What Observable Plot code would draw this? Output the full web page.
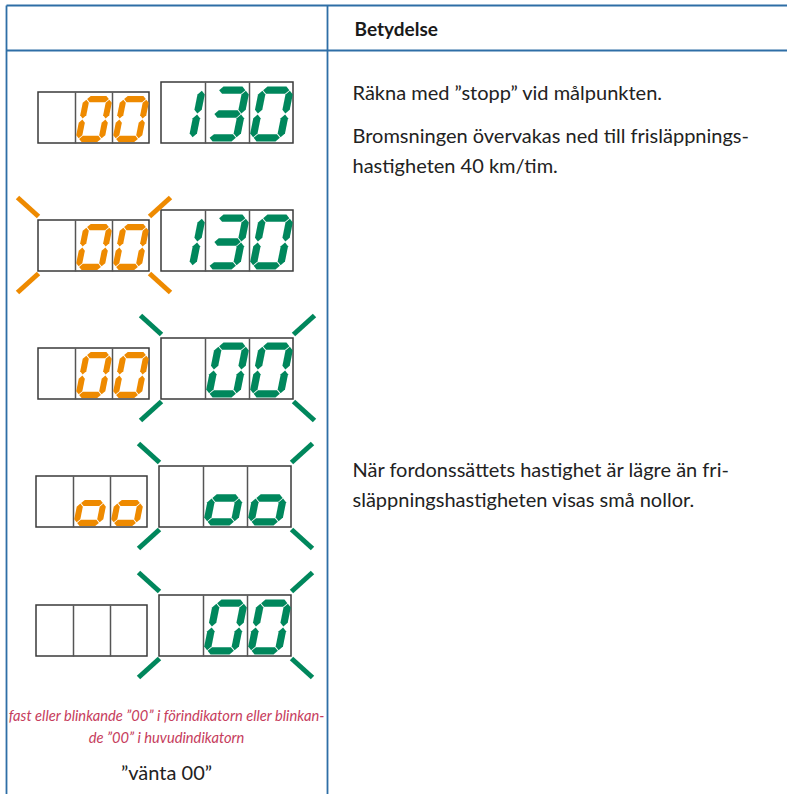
<!DOCTYPE html>
<html>
<head>
<meta charset="utf-8">
<script src="https://cdn.jsdelivr.net/npm/d3@7"></script>
<script src="https://cdn.jsdelivr.net/npm/@observablehq/plot@0.6"></script>
<style>
  html, body { margin: 0; padding: 0; background: #fff; }
  svg { display: block; }
</style>
</head>
<body>
<div id="chart"></div>
<script>
// ---- data ----
const headerLabels = ["", "Betydelse"];
const preDisplays  = [" 00", " 00", " 00", " oo", "   "];
const mainDisplays = ["130", "130", " 00", " oo", " 00"];
const preBlinking  = [false, true, false, false, false];
const mainBlinking = [false, false, true, true, true];
const meaningLines = [
  "Räkna med ”stopp” vid målpunkten.",
  "Bromsningen övervakas ned till frisläppnings-",
  "hastigheten 40 km/tim.",
  "När fordonssättets hastighet är lägre än fri-",
  "släppningshastigheten visas små nollor."
];
const captionLines = [
  "fast eller blinkande ”00” i förindikatorn eller blinkan-",
  "de ”00” i huvudindikatorn"
];
const signalNames = ["”vänta 00”"];
const digitSegments = {"0": "abcdef", "1": "bc", "3": "abcdg", "o": "cdeg", " ": ""};

// ---- layout ----
const W = 787, H = 794;
const ORANGE = "#ee8a00", GREEN = "#00875c", RULE = "#2e6ea6", BOX = "#3a3a3a";
const colX = 6, colDiv = 327, topY = 5, headY = 50;
const rowBottoms = [143, 271, 399, 527, 656];
const rowShift = [0, 0, 0, -2, -2];
const pre = {x: 38, cw: 37, h: 51, color: ORANGE};
const main = {x: 161, cw: 44, h: 61, color: GREEN};
const skew = 0.2;

const tableLines = [
  {x1: colX, y1: topY, x2: W, y2: topY},
  {x1: colX, y1: headY, x2: W, y2: headY},
  {x1: colX, y1: topY, x2: colX, y2: H},
  {x1: colDiv, y1: topY, x2: colDiv, y2: H}
];

const boxes = [], dividers = [], polys = [], rays = [];
function segEnds(s, w, h) {
  const L = -w / 2, R = w / 2, T = -h / 2, B = h / 2;
  return {
    a: [[L, T], [R, T]], b: [[R, T], [R, 0]], c: [[R, 0], [R, B]],
    d: [[L, B], [R, B]], e: [[L, 0], [L, B]], f: [[L, T], [L, 0]], g: [[L, 0], [R, 0]]
  }[s];
}
let pid = 0;
function addDigit(ch, cx, cy, bh, color) {
  const w = 0.45 * bh, h = 0.78 * bh, t = 0.12 * bh, gp = 0.6;
  for (const s of digitSegments[ch] || "") {
    const [[px, py], [qx, qy]] = segEnds(s, w, h);
    const len = Math.hypot(qx - px, qy - py);
    const ux = (qx - px) / len, uy = (qy - py) / len, nx = -uy, ny = ux;
    const P = [px + ux * gp, py + uy * gp], Q = [qx - ux * gp, qy - uy * gp];
    const k = t / 2;
    const pts = [
      P,
      [P[0] + ux * k + nx * k, P[1] + uy * k + ny * k],
      [Q[0] - ux * k + nx * k, Q[1] - uy * k + ny * k],
      Q,
      [Q[0] - ux * k - nx * k, Q[1] - uy * k - ny * k],
      [P[0] + ux * k - nx * k, P[1] + uy * k - ny * k]
    ];
    const id = pid++;
    for (const [x, y] of pts) polys.push({id, color, x: cx + x - skew * y, y: cy + y});
  }
}
function addDisplay(spec, text, blinking, bottom, shift) {
  const x1 = spec.x + shift, x2 = x1 + 3 * spec.cw, y2 = bottom, y1 = bottom - spec.h;
  boxes.push({x1, x2, y1, y2});
  for (let i = 1; i < 3; i++) dividers.push({x: x1 + i * spec.cw, y1, y2});
  [...text].forEach((ch, i) => addDigit(ch, x1 + (i + 0.5) * spec.cw, (y1 + y2) / 2 + 1, spec.h, spec.color));
  if (blinking) {
    const dx = 21, dy = 19;
    rays.push({x1: x1, y1: y1 - 4, x2: x1 - dx, y2: y1 - 4 - dy, color: spec.color});
    rays.push({x1: x2, y1: y1 - 4, x2: x2 + dx, y2: y1 - 4 - dy, color: spec.color});
    rays.push({x1: x1, y1: y2 + 2, x2: x1 - dx, y2: y2 + 2 + dy, color: spec.color});
    rays.push({x1: x2, y1: y2 + 2, x2: x2 + dx, y2: y2 + 2 + dy, color: spec.color});
  }
}
rowBottoms.forEach((b, r) => {
  addDisplay(pre, preDisplays[r], preBlinking[r], b, rowShift[r]);
  addDisplay(main, mainDisplays[r], mainBlinking[r], b, rowShift[r]);
});

const meaningY = [93, 136, 166, 470, 500];
const textX = 352;
const FONT = "Lato, 'Open Sans', sans-serif";

const plot = Plot.plot({
  width: W, height: H, margin: 0,
  x: {domain: [0, W], range: [0, W], axis: null},
  y: {domain: [0, H], range: [0, H], axis: null},
  color: {type: "identity"},
  style: {fontFamily: FONT, background: "#fff"},
  marks: [
    Plot.link(tableLines, {x1: "x1", y1: "y1", x2: "x2", y2: "y2", stroke: RULE, strokeWidth: 1.8}),
    Plot.rect(boxes, {x1: "x1", x2: "x2", y1: "y1", y2: "y2", fill: "none", stroke: BOX, strokeWidth: 1.5}),
    Plot.link(dividers, {x1: "x", x2: "x", y1: "y1", y2: "y2", stroke: "#555", strokeWidth: 1.5}),
    Plot.line(polys, {x: "x", y: "y", z: "id", fill: "color", stroke: "none", curve: "linear-closed"}),
    Plot.link(rays, {x1: "x1", y1: "y1", x2: "x2", y2: "y2", stroke: "color", strokeWidth: 5, strokeLinecap: "butt"}),
    Plot.text([headerLabels[1]], {x: () => 354, y: () => 29, text: d => d, textAnchor: "start", fontSize: 19, fontWeight: "bold", fill: "#1a1a1a"}),
    Plot.text(meaningLines, {x: () => textX, y: (d, i) => meaningY[i], text: d => d, textAnchor: "start", fontSize: 20, fill: "#222"}),
    Plot.text(captionLines, {x: () => 166, y: (d, i) => [716, 738][i], text: d => d, textAnchor: "middle", fontSize: 14.7, fontStyle: "italic", fill: "#c63c5c"}),
    Plot.text(signalNames, {x: () => 166, y: () => 773, text: d => d, textAnchor: "middle", fontSize: 20, fill: "#222"})
  ]
});
document.getElementById("chart").appendChild(plot);
</script>
</body>
</html>
